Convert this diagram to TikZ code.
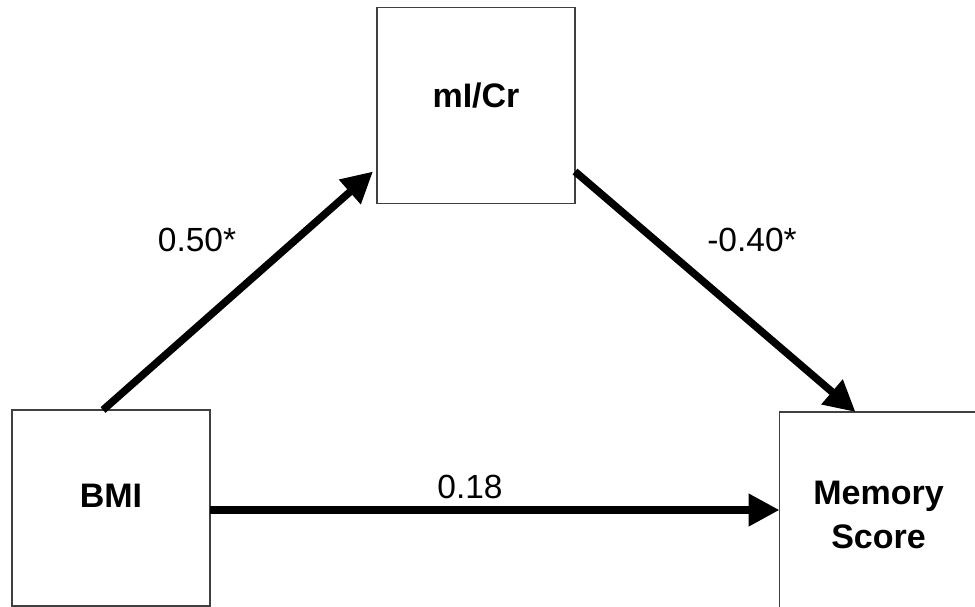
\documentclass[tikz,border=0pt]{standalone}
\usepackage{fontspec}
\setmainfont{Liberation Sans}
\usetikzlibrary{arrows.meta,calc}
\begin{document}
\begin{tikzpicture}[x=1pt,y=-1pt,
  box/.style={draw=black!75,line width=1.6pt,minimum width=198pt,minimum height=196pt,inner sep=0pt,outer sep=0pt},
  boxtext/.style={font=\fontsize{34}{44}\selectfont\bfseries,align=center,inner sep=0pt},
  coef/.style={font=\fontsize{33.5}{38}\selectfont,inner sep=0pt},
  path/.style={line width=7.5pt,-{Triangle[length=31pt,width=31pt]}}]
\useasboundingbox (0,0) rectangle (975,606);
% variable boxes
\node[box] (mi)  at (476,105.5) {};
\node[box] (bmi) at (111,508) {};
\node[box] (mem) at (878.5,510) {};
\node[boxtext] (mitxt)  at ([yshift=10pt]mi.center)  {mI/Cr};
\node[boxtext] (bmitxt) at ([yshift=12pt]bmi.center) {BMI};
\node[boxtext] (memtxt) at ([yshift=-5pt]mem.center) {Memory\\Score};
% path arrows
\draw[path] ([xshift=-8pt]bmi.north) -- ([shift={(-4pt,32pt)}]mi.south west);
\draw[path] ([yshift=32pt]mi.south east) -- ([xshift=-23pt]mem.north);
\draw[path] ([yshift=-2pt]bmi.east) -- ([yshift=-2pt]bmi.east -| mem.west);
% coefficients
\node[coef] (a) at (197,240) {0.50*};
\node[coef] (b) at (752,240) {-0.40*};
\node[coef] (c) at (470,487) {0.18};
\end{tikzpicture}
\end{document}
